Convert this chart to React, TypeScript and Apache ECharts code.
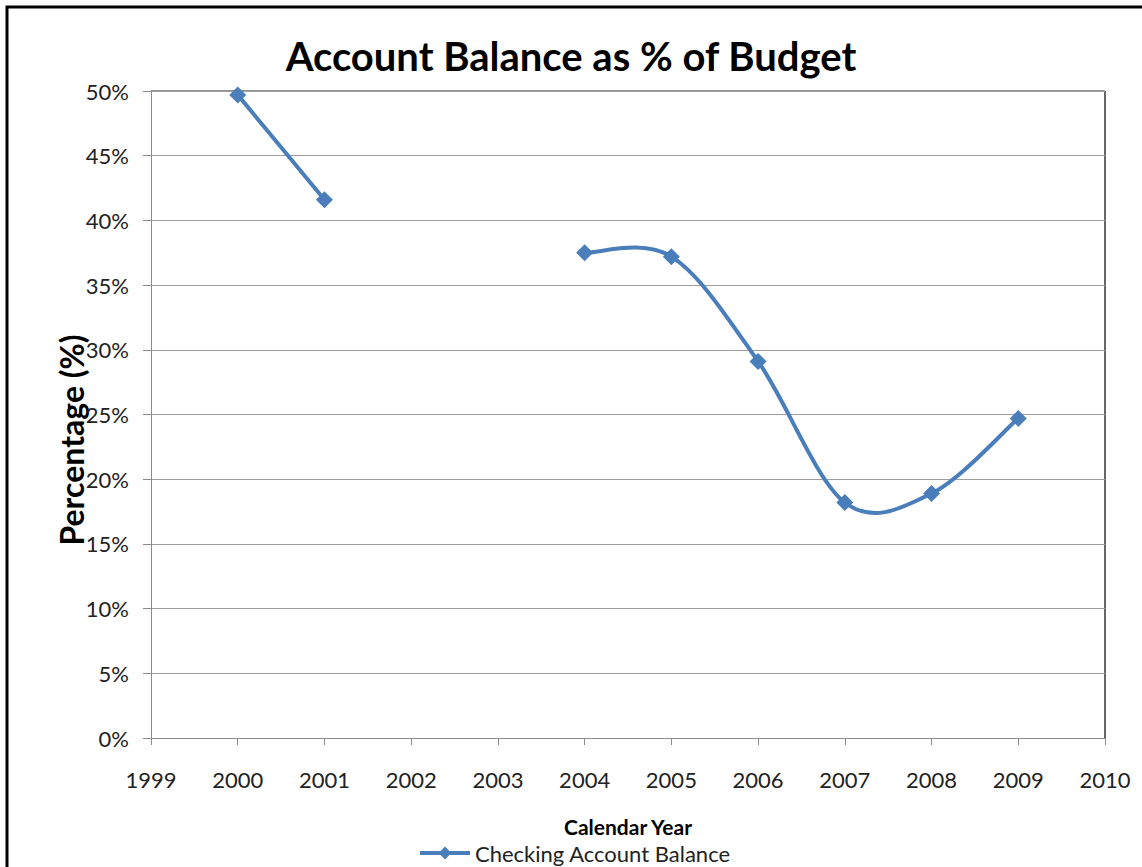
import React, { useEffect, useRef } from "react";
import * as echarts from "echarts";

const years = [2000, 2001, 2002, 2003, 2004, 2005, 2006, 2007, 2008, 2009];
const balance: (number | null)[] = [49.7, 41.6, null, null, 37.5, 37.2, 29.1, 18.2, 18.9, 24.7];
const seriesName = "Checking Account Balance";
const titleText = "Account Balance as % of Budget";
const xTitle = "Calendar Year";
const yTitle = "Percentage (%)";

const FONT = "Lato, 'Open Sans', 'Noto Sans', sans-serif";
const BLUE = "#4a7ebb";

export default function App() {
  const ref = useRef<HTMLDivElement>(null);
  useEffect(() => {
    if (!ref.current) return;
    const chart = echarts.init(ref.current, null, { renderer: "svg" });
    const data = years.map((y, i) => [y, balance[i] === null ? "-" : balance[i]]);

    const pt = (api: any, k: number): number[] | null => {
      if (k < 0 || k >= years.length) return null;
      const v = balance[k];
      if (v === null) return null;
      return api.coord([years[k], v]);
    };

    chart.setOption({
      animation: false,
      backgroundColor: "#ffffff",
      textStyle: { fontFamily: FONT },
      title: {
        text: titleText,
        left: "center",
        top: 31,
        textStyle: { fontFamily: FONT, fontWeight: "bold", fontSize: 40, color: "#000" },
      },
      grid: { left: 151, right: 37, top: 91, bottom: 129, show: true, borderWidth: 0 },
      legend: {
        data: [seriesName],
        left: 413,
        top: 837,
        itemWidth: 50,
        itemHeight: 16,
        itemGap: 4,
        lineStyle: { opacity: 1, width: 4, color: BLUE },
        textStyle: { fontFamily: FONT, fontSize: 22, color: "#222" },
      },
      xAxis: {
        type: "value",
        min: 1999,
        max: 2010,
        interval: 1,
        name: xTitle,
        nameLocation: "middle",
        nameGap: 78,
        nameTextStyle: { fontFamily: FONT, fontWeight: "bold", fontSize: 21, color: "#000" },
        axisLine: { show: true, lineStyle: { color: "#8c8c8c", width: 1 } },
        axisTick: { show: true, length: 7, lineStyle: { color: "#8c8c8c" } },
        axisLabel: { formatter: (v: number) => String(v), fontSize: 22, color: "#222", margin: 30, fontFamily: FONT },
        splitLine: { show: false },
      },
      yAxis: {
        type: "value",
        min: 0,
        max: 50,
        interval: 5,
        axisLine: { show: true, lineStyle: { color: "#8c8c8c", width: 1 } },
        axisTick: { show: true, length: 8, lineStyle: { color: "#8c8c8c" } },
        axisLabel: { formatter: (v: number) => v + "%", fontSize: 22, color: "#222", margin: 22, fontFamily: FONT },
        splitLine: { show: true, lineStyle: { color: "#9e9e9e", width: 1 } },
      },
      graphic: [
        {
          type: "rect",
          shape: { x: 7, y: 7, width: 1300, height: 1000 },
          style: { fill: "none", stroke: "#000", lineWidth: 3 },
          silent: true,
        },
        {
          type: "line",
          shape: { x1: 151, y1: 91, x2: 1105, y2: 91 },
          style: { stroke: "#6e6e6e", lineWidth: 1.5 },
          silent: true,
        },
        {
          type: "line",
          shape: { x1: 1105, y1: 91, x2: 1105, y2: 738 },
          style: { stroke: "#000", lineWidth: 1.2 },
          silent: true,
        },
        {
          type: "text",
          x: 71,
          y: 440,
          rotation: Math.PI / 2,
          style: {
            text: yTitle,
            fontFamily: FONT,
            fontWeight: "bold",
            fontSize: 32,
            fill: "#000",
            textAlign: "center",
            textVerticalAlign: "middle",
          },
        },
      ],
      series: [
        {
          name: "curve",
          type: "custom",
          z: 2,
          data,
          encode: { x: 0, y: 1 },
          renderItem: (params: any, api: any) => {
            const i = params.dataIndex;
            const p1 = pt(api, i);
            const p2 = pt(api, i + 1);
            if (!p1 || !p2) return null;
            const p0 = pt(api, i - 1) || p1;
            const p3 = pt(api, i + 2) || p2;
            const t = 1 / 6;
            return {
              type: "bezierCurve",
              shape: {
                x1: p1[0],
                y1: p1[1],
                x2: p2[0],
                y2: p2[1],
                cpx1: p1[0] + (p2[0] - p0[0]) * t,
                cpy1: p1[1] + (p2[1] - p0[1]) * t,
                cpx2: p2[0] - (p3[0] - p1[0]) * t,
                cpy2: p2[1] - (p3[1] - p1[1]) * t,
              },
              style: { stroke: BLUE, lineWidth: 4, fill: "none", lineCap: "round" },
              silent: true,
            };
          },
        },
        {
          name: seriesName,
          type: "line",
          z: 3,
          data,
          connectNulls: false,
          symbol: "diamond",
          symbolSize: 17,
          lineStyle: { color: BLUE, width: 4, opacity: 0 },
          itemStyle: { color: BLUE },
        },
      ],
    });
    return () => chart.dispose();
  }, []);
  return (
    <div style={{ position: "absolute", left: 0, top: 0, width: 1142, height: 867 }}>
      <div ref={ref} style={{ width: 1142, height: 867 }} />
    </div>
  );
}
